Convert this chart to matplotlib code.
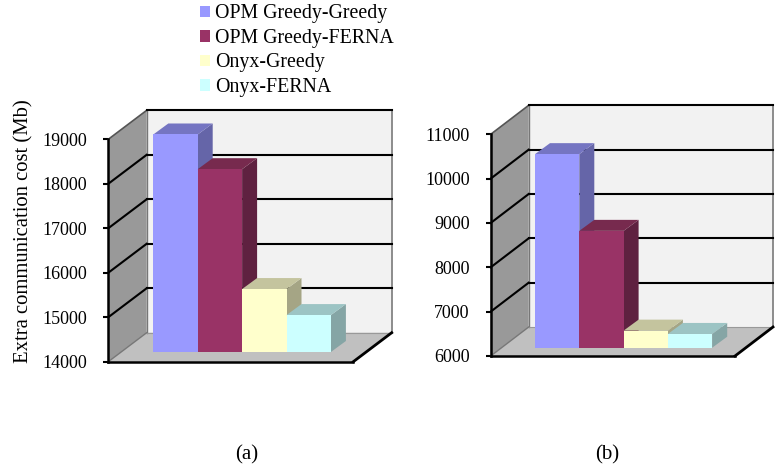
import matplotlib
matplotlib.use("Agg")
import matplotlib.pyplot as plt
from matplotlib.patches import Polygon, Patch

plt.rcParams['font.family'] = ['Liberation Serif', 'DejaVu Serif']

series = ['OPM Greedy-Greedy', 'OPM Greedy-FERNA', 'Onyx-Greedy', 'Onyx-FERNA']
colors = ['#9999FF', '#993366', '#FFFFCC', '#CCFFFF']
top_colors = ['#7575C2', '#772A4E', '#C4C49E', '#9CC4C4']
side_colors = ['#6565A8', '#5F2140', '#A5A585', '#85A5A5']
values_a = [18890, 18110, 15415, 14830]
values_b = [10365, 8635, 6385, 6310]
ticks_a = [14000, 15000, 16000, 17000, 18000, 19000]
ticks_b = [6000, 7000, 8000, 9000, 10000, 11000]
panel_labels = ['(a)', '(b)']

W, H = 780, 470
fig = plt.figure(figsize=(W / 100, H / 100), dpi=100)


def panel(values, ticks, left, right, y0, y1, bar_left, bar_w, lift,
          wall_dx, wall_dy, bar_dx, bar_dy, pad):
    ax = fig.add_axes([left / W, 1 - y0 / H, (right - left) / W, (y0 - y1) / H])
    ppv = (y0 - y1) / (ticks[-1] - ticks[0])
    x_min = -(bar_left - left) / bar_w - 0.5
    ax.set_xlim(x_min, x_min + (right - left) / bar_w)
    ax.set_ylim(ticks[0], ticks[-1])
    wx, wy = wall_dx / bar_w, wall_dy / ppv
    bx, by = bar_dx / bar_w, bar_dy / ppv
    x0, x1 = ax.get_xlim()
    v0, v1 = ticks[0], ticks[-1]

    def poly(pts, fc, ec='none', lw=0, z=1):
        ax.add_patch(Polygon(pts, closed=True, fc=fc, ec=ec, lw=lw, zorder=z, clip_on=False))

    # back wall, side wall, floor
    poly([(x0 + wx, v0 + wy), (x1 + wx, v0 + wy), (x1 + wx, v1 + wy), (x0 + wx, v1 + wy)], '#F2F2F2')
    poly([(x0, v0), (x0 + wx, v0 + wy), (x0 + wx, v1 + wy), (x0, v1)], '#999999')
    poly([(x0, v0), (x1, v0), (x1 + wx, v0 + wy), (x0 + wx, v0 + wy)], '#C0C0C0')
    ax.plot([x0 + wx, x0 + wx], [v0 + wy, v1 + wy], color='#777777', lw=1, zorder=1.5, clip_on=False)
    ax.plot([x1 + wx, x1 + wx], [v0 + wy, v1 + wy], color='#8C8C8C', lw=1.4, zorder=1.5, clip_on=False)
    ax.plot([x0 + wx, x1 + wx], [v0 + wy] * 2, color='#999999', lw=0.8, zorder=1.5, clip_on=False)
    ax.plot([x0, x0 + wx], [v1, v1 + wy], color='#555555', lw=1.2, zorder=1.6, clip_on=False)
    ax.plot([x0, x0 + wx], [v0, v0 + wy], color='#777777', lw=1, zorder=1.6, clip_on=False)

    # gridlines
    for t in ticks[1:]:
        ax.plot([x0 + wx, x1 + wx], [t + wy] * 2, color='black', lw=1.5, zorder=2, clip_on=False)
    for t in ticks[1:-1]:
        ax.plot([x0, x0 + wx], [t, t + wy], color='black', lw=1.5, zorder=2, clip_on=False)
    ax.plot([x1, x1 + wx], [v0, v0 + wy], color='black', lw=2, zorder=2, clip_on=False)

    # bars
    base = v0 + lift / ppv
    for i, (v, c, tc, sc) in enumerate(zip(values, colors, top_colors, side_colors)):
        l, r = i - 0.5, i + 0.5
        top = v + lift / ppv
        poly([(r, base), (r + bx, base + by), (r + bx, top + by), (r, top)], sc, z=3 + i)
        poly([(l, top), (r, top), (r + bx, top + by), (l + bx, top + by)], tc, z=3 + i)
        ax.bar(i, v - v0, bottom=base, width=1, color=c, zorder=3 + i, clip_on=False)

    for name in ['top', 'right']:
        ax.spines[name].set_visible(False)
    ax.patch.set_visible(False)
    for name in ['left', 'bottom']:
        ax.spines[name].set_linewidth(1.8)
        ax.spines[name].set_zorder(10)
    ax.set_xticks([])
    ax.set_yticks(ticks)
    ax.tick_params(axis='y', length=3.5, width=1.5, labelsize=13, pad=pad)
    return ax


panel(values_a, ticks_a, 108.3, 353.3, 361.7, 139.3, 153.3, 44.4, 9.7, 38.4, 29, 15, 11, 12)
panel(values_b, ticks_b, 490.7, 735, 356, 134.3, 535, 44.3, 8.3, 38, 29, 15, 11, 11.5)

fig.text(24 / W, 1 - 231 / H, 'Extra communication cost (Mb)', rotation=90,
         ha='center', va='center', fontsize=14.9)
fig.text(247 / W, 1 - 455 / H, panel_labels[0], ha='center', va='center', fontsize=15)
fig.text(607 / W, 1 - 455 / H, panel_labels[1], ha='center', va='center', fontsize=15)

handles = [Patch(fc=c, ec='none', label=s) for s, c in zip(series, colors)]
fig.legend(handles=handles, loc='upper left', bbox_to_anchor=(200 / W, 1 - 4.4 / H),
           frameon=False, fontsize=14.3, handlelength=0.5, handleheight=0.5,
           handletextpad=0.25, labelspacing=0.277, borderpad=0, borderaxespad=0)

fig.savefig('out.png', dpi=100)
